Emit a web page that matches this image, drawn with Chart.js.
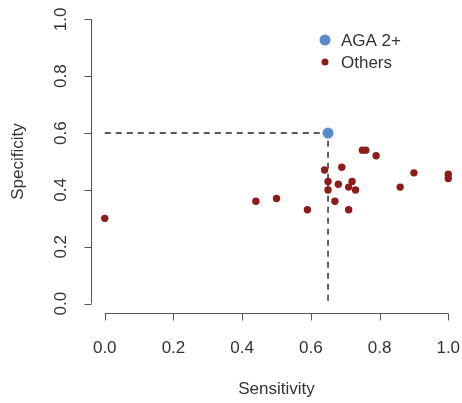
<!DOCTYPE html>
<html><head><meta charset="utf-8">
<script src="https://cdn.jsdelivr.net/npm/chart.js@4/dist/chart.umd.min.js"></script>
<style>html,body{margin:0;padding:0;background:#fff;overflow:hidden}#wrap{width:462px;height:403px}canvas{display:block}</style>
</head><body><div id="wrap"><canvas id="c" width="462" height="403"></canvas></div>
<script>
const agaX = [0.65];
const agaY = [0.60];
const othersX = [0.00, 0.44, 0.50, 0.59, 0.64, 0.65, 0.65, 0.67, 0.68, 0.69, 0.71, 0.71, 0.72, 0.73, 0.75, 0.76, 0.79, 0.86, 0.90, 1.00, 1.00];
const othersY = [0.30, 0.36, 0.37, 0.33, 0.47, 0.43, 0.40, 0.36, 0.42, 0.48, 0.33, 0.41, 0.43, 0.40, 0.54, 0.54, 0.52, 0.41, 0.46, 0.455, 0.44];
const cutX = [0.00, 0.65, 0.65];
const cutY = [0.60, 0.60, 0.00];
const tickValues = [0.0, 0.2, 0.4, 0.6, 0.8, 1.0];
const tickLabels = ["0.0", "0.2", "0.4", "0.6", "0.8", "1.0"];
const legendLabels = ["AGA 2+", "Others"];
const xTitle = "Sensitivity";
const yTitle = "Specificity";

const BLUE = "#5b8ac8", RED = "#8e1c1a", AXIS = "#555", TXT = "#333";
const FONT = '17px "Liberation Sans", Arial, sans-serif';
const zip = (xs, ys) => xs.map((x, i) => ({x, y: ys[i]}));

const rAxes = {
  id: 'rAxes',
  afterDraw(chart) {
    const ctx = chart.ctx, xs = chart.scales.x, ys = chart.scales.y, a = chart.chartArea;
    ctx.save();
    ctx.strokeStyle = AXIS; ctx.lineWidth = 1; ctx.fillStyle = TXT; ctx.font = FONT;
    // x axis
    const yb = Math.round(a.bottom) - 1.5;
    ctx.beginPath();
    ctx.moveTo(xs.getPixelForValue(tickValues[0]), yb);
    ctx.lineTo(xs.getPixelForValue(tickValues[tickValues.length-1]), yb);
    tickValues.forEach(v => { const p = Math.round(xs.getPixelForValue(v)) + 0.5; ctx.moveTo(p, yb); ctx.lineTo(p, yb + 7); });
    ctx.stroke();
    ctx.textAlign = 'center'; ctx.textBaseline = 'middle';
    tickValues.forEach((v, i) => ctx.fillText(tickLabels[i], xs.getPixelForValue(v), 348));
    ctx.fillText(xTitle, (a.left + a.right) / 2, 389);
    // y axis
    const xl = Math.round(a.left) + 0.5;
    ctx.beginPath();
    ctx.moveTo(xl, ys.getPixelForValue(tickValues[0]));
    ctx.lineTo(xl, ys.getPixelForValue(tickValues[tickValues.length-1]));
    tickValues.forEach(v => { const p = Math.round(ys.getPixelForValue(v)) + 0.5; ctx.moveTo(xl, p); ctx.lineTo(xl - 7, p); });
    ctx.stroke();
    tickValues.forEach((v, i) => {
      ctx.save(); ctx.translate(61, ys.getPixelForValue(v)); ctx.rotate(-Math.PI/2);
      ctx.fillText(tickLabels[i], 0, 0); ctx.restore();
    });
    ctx.save(); ctx.translate(18, (a.top + a.bottom) / 2); ctx.rotate(-Math.PI/2);
    ctx.fillText(yTitle, 0, 0); ctx.restore();
    // legend
    ctx.textAlign = 'left';
    ctx.fillStyle = BLUE; ctx.beginPath(); ctx.arc(325, 40, 5.5, 0, Math.PI*2); ctx.fill();
    ctx.fillStyle = RED; ctx.beginPath(); ctx.arc(325, 62, 3.5, 0, Math.PI*2); ctx.fill();
    ctx.fillStyle = TXT;
    ctx.fillText(legendLabels[0], 341, 41);
    ctx.fillText(legendLabels[1], 341, 63);
    ctx.restore();
  }
};

new Chart(document.getElementById('c'), {
  type: 'scatter',
  data: {
    datasets: [
      { label: legendLabels[0], data: zip(agaX, agaY), pointRadius: 5.5, pointBackgroundColor: BLUE, pointBorderColor: BLUE, pointBorderWidth: 0 },
      { label: legendLabels[1], data: zip(othersX, othersY), pointRadius: 3.7, pointBackgroundColor: RED, pointBorderColor: RED, pointBorderWidth: 0 },
      { label: 'cut', data: zip(cutX, cutY), showLine: true, pointRadius: 0, borderColor: '#222', borderWidth: 1.4, borderDash: [6, 5], fill: false }
    ]
  },
  options: {
    responsive: false, animation: false,
    layout: { autoPadding: false, padding: { left: 91, right: 0, top: 8, bottom: 88 } },
    plugins: { legend: { display: false }, tooltip: { enabled: false } },
    scales: {
      x: { type: 'linear', min: -0.04, max: 1.04, display: false },
      y: { type: 'linear', min: -0.04, max: 1.04, display: false }
    }
  },
  plugins: [rAxes]
});
</script></body></html>
